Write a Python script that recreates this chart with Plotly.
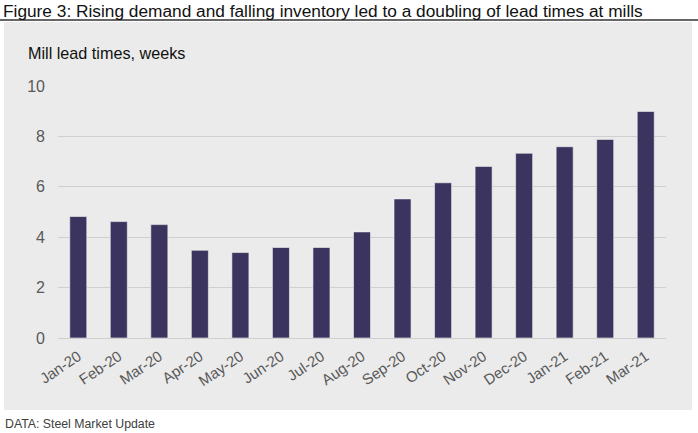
import plotly.graph_objects as go

# Mill lead times (weeks)
months = ["Jan-20", "Feb-20", "Mar-20", "Apr-20", "May-20", "Jun-20", "Jul-20", "Aug-20",
          "Sep-20", "Oct-20", "Nov-20", "Dec-20", "Jan-21", "Feb-21", "Mar-21"]
lead_times = [4.82, 4.62, 4.50, 3.48, 3.39, 3.59, 3.59, 4.21,
              5.52, 6.16, 6.81, 7.33, 7.59, 7.88, 8.99]
y_ticks = [0, 2, 4, 6, 8, 10]

title_text = "Figure 3: Rising demand and falling inventory led to a doubling of lead times at mills"
axis_label = "Mill lead times, weeks"
source_text = "DATA: Steel Market Update"

FONT = "Liberation Sans, Arial, sans-serif"

fig = go.Figure(go.Bar(
    x=months,
    y=lead_times,
    width=0.42,
    marker=dict(color="#3b345e", line=dict(color="#f4f4f4", width=0.6)),
    hoverinfo="x+y",
))

# grey panel behind the chart and rule under the title
fig.add_shape(type="rect", xref="paper", yref="paper", layer="below",
              x0=-54 / 608, x1=1 + 26 / 608, y0=-72 / 252, y1=1 + 64 / 252,
              fillcolor="#ebebeb", line_width=0)
fig.add_shape(type="line", xref="paper", yref="paper",
              x0=-58 / 608, x1=1 + 32 / 608, y0=1 + 66 / 252, y1=1 + 66 / 252,
              line=dict(color="#333333", width=1.5))

fig.add_annotation(text=title_text, xref="paper", yref="paper",
                   x=-57 / 608, y=1 + 75 / 252, xanchor="left", yanchor="middle",
                   showarrow=False, font=dict(family=FONT, size=17.3, color="#111111"))
fig.add_annotation(text=axis_label, xref="paper", yref="paper",
                   x=-32 / 608, y=1 + 33 / 252, xanchor="left", yanchor="middle",
                   showarrow=False, font=dict(family=FONT, size=16.2, color="#111111"))
fig.add_annotation(text=source_text, xref="paper", yref="paper",
                   x=-55 / 608, y=-86 / 252, xanchor="left", yanchor="middle",
                   showarrow=False, font=dict(family=FONT, size=12.3, color="#404040"))

fig.update_layout(
    width=698,
    height=433,
    margin=dict(l=58, r=32, t=86, b=95),
    paper_bgcolor="white",
    plot_bgcolor="rgba(0,0,0,0)",
    showlegend=False,
    font=dict(family=FONT, color="#595959"),
    xaxis=dict(
        tickangle=-34,
        tickfont=dict(size=15, color="#595959"),
        showgrid=False,
        showline=False,
        ticks="",
        ticklabelstandoff=6,
        range=[-0.5, len(months) - 0.5],
    ),
    yaxis=dict(
        range=[0, 10],
        tickvals=y_ticks,
        tickfont=dict(size=16, color="#595959"),
        gridcolor="#cfcfcf",
        gridwidth=1.2,
        zeroline=True,
        zerolinecolor="#cfcfcf",
        zerolinewidth=1.2,
        showline=False,
        ticks="",
        ticklabelstandoff=12,
    ),
)

# drop the browser's default body margin so the figure sits at the page corner
fig.write_html("out.html", config={"displayModeBar": False},
               post_script="document.body.style.margin='0';")
